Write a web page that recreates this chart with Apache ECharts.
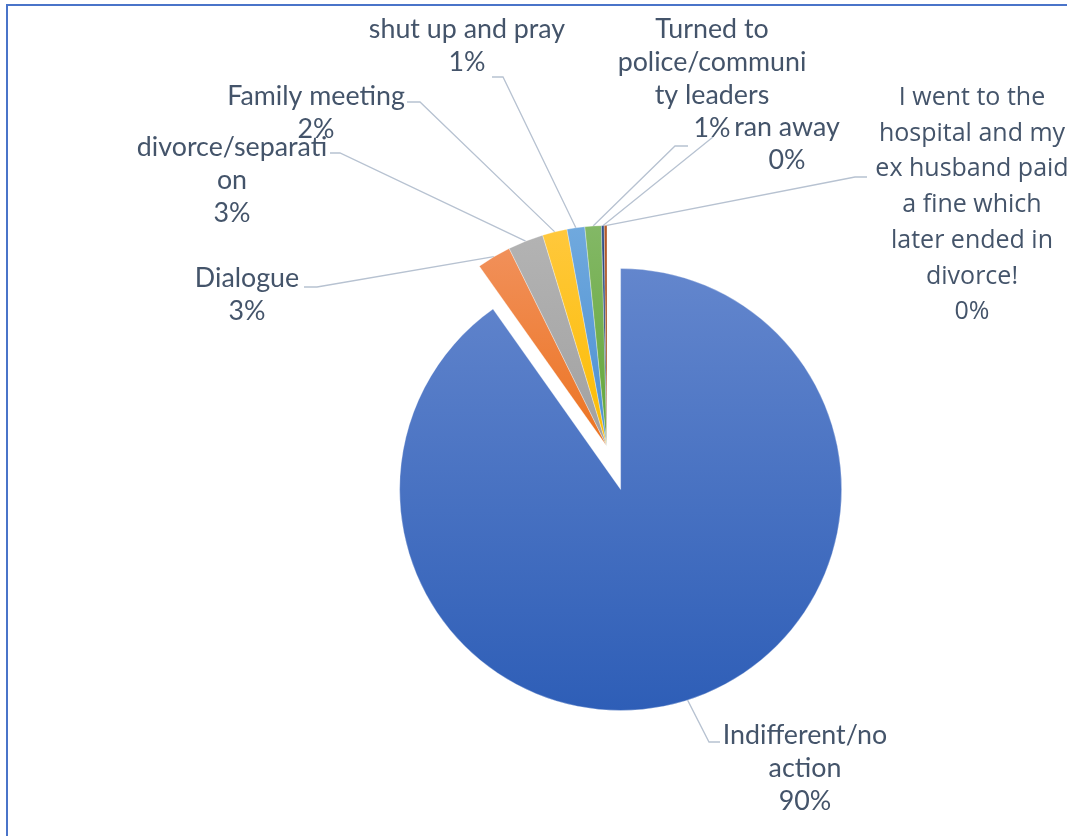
<!DOCTYPE html>
<html><head><meta charset="utf-8">
<script src="https://cdn.jsdelivr.net/npm/echarts@6/dist/echarts.min.js"></script>
<style>
html,body{margin:0;padding:0;background:#fff;}
#frame{position:absolute;left:6px;top:4px;width:1061px;height:832px;border-top:2px solid #4a74c9;border-left:2px solid #4a74c9;box-sizing:border-box;}
#chart{position:absolute;left:0;top:0;width:1067px;height:836px;}
</style></head><body>
<div id="frame"></div>
<div id="chart"></div>
<script>
// ---- data ----
const categories = [
  'Indifferent/no action',
  'Dialogue',
  'divorce/separation',
  'Family meeting',
  'shut up and pray',
  'Turned to police/community leaders',
  'ran away',
  'I went to the hospital and my ex husband paid a fine which later ended in divorce!'
];
const values = [90.2, 2.5, 2.6, 1.8, 1.3, 1.2, 0.2, 0.2];
// label text as wrapped in the original
const labelTexts = [
  'Indifferent/no\naction',
  'Dialogue',
  'divorce/separati\non',
  'Family meeting',
  'shut up and pray',
  'Turned to\npolice/communi\nty leaders',
  'ran away',
  'I went to the\nhospital and my\nex husband paid\na fine which\nlater ended in\ndivorce!'
];
const explodedIndex = 0;

// ---- styles ----
const colorTop    = ['#6386cd', '#f1905a', '#b3b3b3', '#ffc83c', '#70a9de', '#83b866', '#30508a', '#b25a2a'];
const colorBottom = ['#2e5eb7', '#ec7320', '#a1a1a1', '#fbbc00', '#4b8fd1', '#63a537', '#223f70', '#963f0b'];

// ---- layout ----
const pieCenter = [607, 446.6];
const pieRadius = 221;
const explodeOffset = 45;
const labelLayoutCfg = [
  {x: 805, y: 768, elbow: [709, 742], end: [720, 742]},
  {x: 247, y: 295, elbow: [317, 287], end: [304, 287]},
  {x: 232, y: 180, elbow: [340, 153], end: [330, 153]},
  {x: 316, y: 113, elbow: [420, 102], end: [407, 102]},
  {x: 467, y: 46,  elbow: [503, 77],  end: [492, 77]},
  {x: 712, y: 79,  elbow: [675, 146], end: [688, 146]},
  {x: 787, y: 144, elbow: [713, 137], end: [713, 137]},
  {x: 972, y: 205, elbow: [855, 177], end: [867, 177]}
];

// offset of the exploded slice along its bisector (from the data)
const total = values.reduce((a, b) => a + b, 0);
let before = 0;
for (let i = 0; i < explodedIndex; i++) before += values[i];
const midDeg = 90 - (before + values[explodedIndex] / 2) / total * 360;
const midRad = midDeg * Math.PI / 180;
const explodedCenter = [
  pieCenter[0] + Math.cos(midRad) * explodeOffset,
  pieCenter[1] - Math.sin(midRad) * explodeOffset
];

const chart = echarts.init(document.getElementById('chart'), null, {renderer: 'canvas'});

function makeData(visibleFn) {
  return categories.map((name, i) => {
    const vis = visibleFn(i);
    return {
      name: name,
      value: values[i],
      itemStyle: vis ? {
        color: new echarts.graphic.LinearGradient(0, 0, 0, 1, [
          {offset: 0, color: colorTop[i]},
          {offset: 1, color: colorBottom[i]}
        ]),
        borderColor: 'rgba(255,255,255,0.6)',
        borderWidth: 0.5
      } : {color: 'rgba(0,0,0,0)', borderWidth: 0},
      label: !vis ? {show: false} : (i === 7 ? {
        fontFamily: 'Open Sans',
        fontSize: 25,
        lineHeight: 35.7
      } : {}),
      labelLine: {show: vis}
    };
  });
}

const common = {
  type: 'pie',
  radius: pieRadius,
  startAngle: 90,
  clockwise: true,
  avoidLabelOverlap: false,
  percentPrecision: 0,
  silent: true,
  emphasis: {disabled: true},
  label: {
    show: true,
    position: 'outside',
    color: '#44546a',
    fontFamily: 'Lato',
    fontSize: 26.8,
    lineHeight: 33,
    align: 'center',
    formatter: function (p) {
      return labelTexts[p.dataIndex] + '\n' + p.percent + '%';
    }
  },
  labelLine: {
    show: true,
    length: 20,
    length2: 10,
    lineStyle: {color: '#b7c2d1', width: 1.3}
  },
  labelLayout: function (p) {
    const c = labelLayoutCfg[p.dataIndex];
    const start = p.labelLinePoints ? p.labelLinePoints[0] : c.elbow;
    return {
      x: c.x,
      y: c.y,
      align: 'center',
      verticalAlign: 'middle',
      labelLinePoints: [start, c.elbow, c.end]
    };
  }
};

chart.setOption({
  animation: false,
  backgroundColor: 'transparent',
  series: [
    Object.assign({}, common, {
      center: pieCenter,
      data: makeData(i => i !== explodedIndex)
    }),
    Object.assign({}, common, {
      center: explodedCenter,
      data: makeData(i => i === explodedIndex)
    })
  ]
});
</script>
</body></html>
